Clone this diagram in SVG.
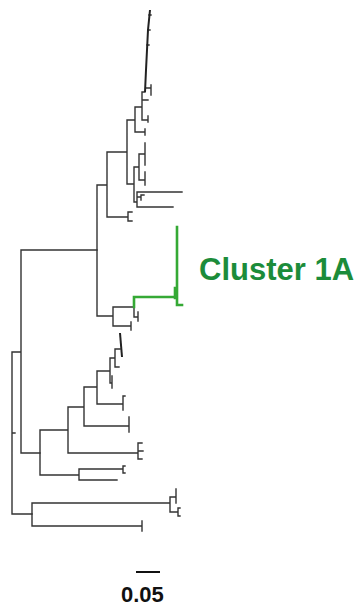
<svg xmlns="http://www.w3.org/2000/svg" width="358" height="610" viewBox="0 0 358 610">
  <style>
    .br { fill: none; stroke: #333333; stroke-width: 1.4; stroke-linecap: square; }
    .dense { fill: none; stroke: #222222; stroke-width: 2; }
    .hl { fill: none; stroke: #35a935; stroke-width: 2.6; stroke-linecap: square; }
    .lbl { font-family: "Liberation Sans", Arial, sans-serif; font-weight: bold; }
  </style>
  <rect width="358" height="610" fill="#ffffff"/>

  <g id="connectors">
    <!-- backbone -->
    <path class="br" d="M12,352 V514 M12,352 H21 M12,433 H15 M21,250 V453 M21,250 H97 M21,453 H40 M12,514 H32"/>

    <!-- basal clade -->
    <path class="br" d="M32,503 V526 M32,503 H170 M32,526 H142 M142,521 V531
      M170,497 V512 M170,497 H176 M176,489 V503
      M170,512 H178 M178,508 V516 M178,508 H180 M178,516 H180"/>

    <!-- lower clade -->
    <path class="br" d="M40,430 V475 M40,475 H79 M79,469 V480
      M79,469 H123 M123,466 V473 M123,466 H125 M123,473 H125 M79,480 H117
      M40,430 H68 M68,407 V453
      M68,453 H138 M138,443 V459 M138,443 H142 M138,451 H143 M138,459 H142
      M68,407 H84 M84,387 V426 M84,426 H129 M129,417 V432
      M84,387 H97 M97,371 V404 M97,404 H123 M123,396 V410 M123,396 H125
      M97,371 H110 M110,358 V383 M110,383 H112 M112,376 V388
      M110,358 H115 M115,349 V367 M115,367 H119 M115,349 H120"/>
    <path class="dense" d="M120,333 L122,357"/>

    <!-- upper clade -->
    <path class="br" d="M97,185 V316 M97,316 H113 M113,307 V326 M113,307 H134
      M134,307 V317 M134,317 H138 M138,312 V321 M113,326 H131 M131,322 V330
      M97,185 H107 M107,152 V217
      M107,217 H128 M128,212 V221 M128,212 H132 M128,221 H132
      M107,152 H127 M127,120 V184 M127,184 H134 M134,167 V202
      M134,167 H139 M139,154 V180 M139,154 H145 M145,143 V165 M139,180 H145 M145,172 V185
      M134,202 H137 M137,192 V207 M137,192 H182 M137,207 H173
      M137,197 H141 M141,195 V200 M141,195 H144
      M127,120 H135 M135,107 V132 M135,132 H145 M145,129 V135
      M135,107 H142 M142,92 V120 M142,120 H148 M148,116 V122 M142,100 H148 M142,92 H145
      M146,88 H151 M151,85 V95 M147,45 H149 M148,30 H150 M149,15 H151"/>
    <path class="dense" d="M145,92 L146,70 L147,50 L148,30 L150,10"/>

    <!-- highlighted cluster -->
    <path class="hl" d="M134,307 V297 H176 M177,227 V305 H182 M175,288 V298"/>

    <!-- scale bar -->
    <path d="M136,572 H160" stroke="#111111" stroke-width="2"/>
  </g>

  <g id="label-cluster-1a">
    <text class="lbl" x="199" y="280" font-size="31" fill="#1c8c3a">Cluster 1A</text>
  </g>
  <g id="label-scale">
    <text class="lbl" x="121" y="602" font-size="22" fill="#111111">0.05</text>
  </g>
</svg>
